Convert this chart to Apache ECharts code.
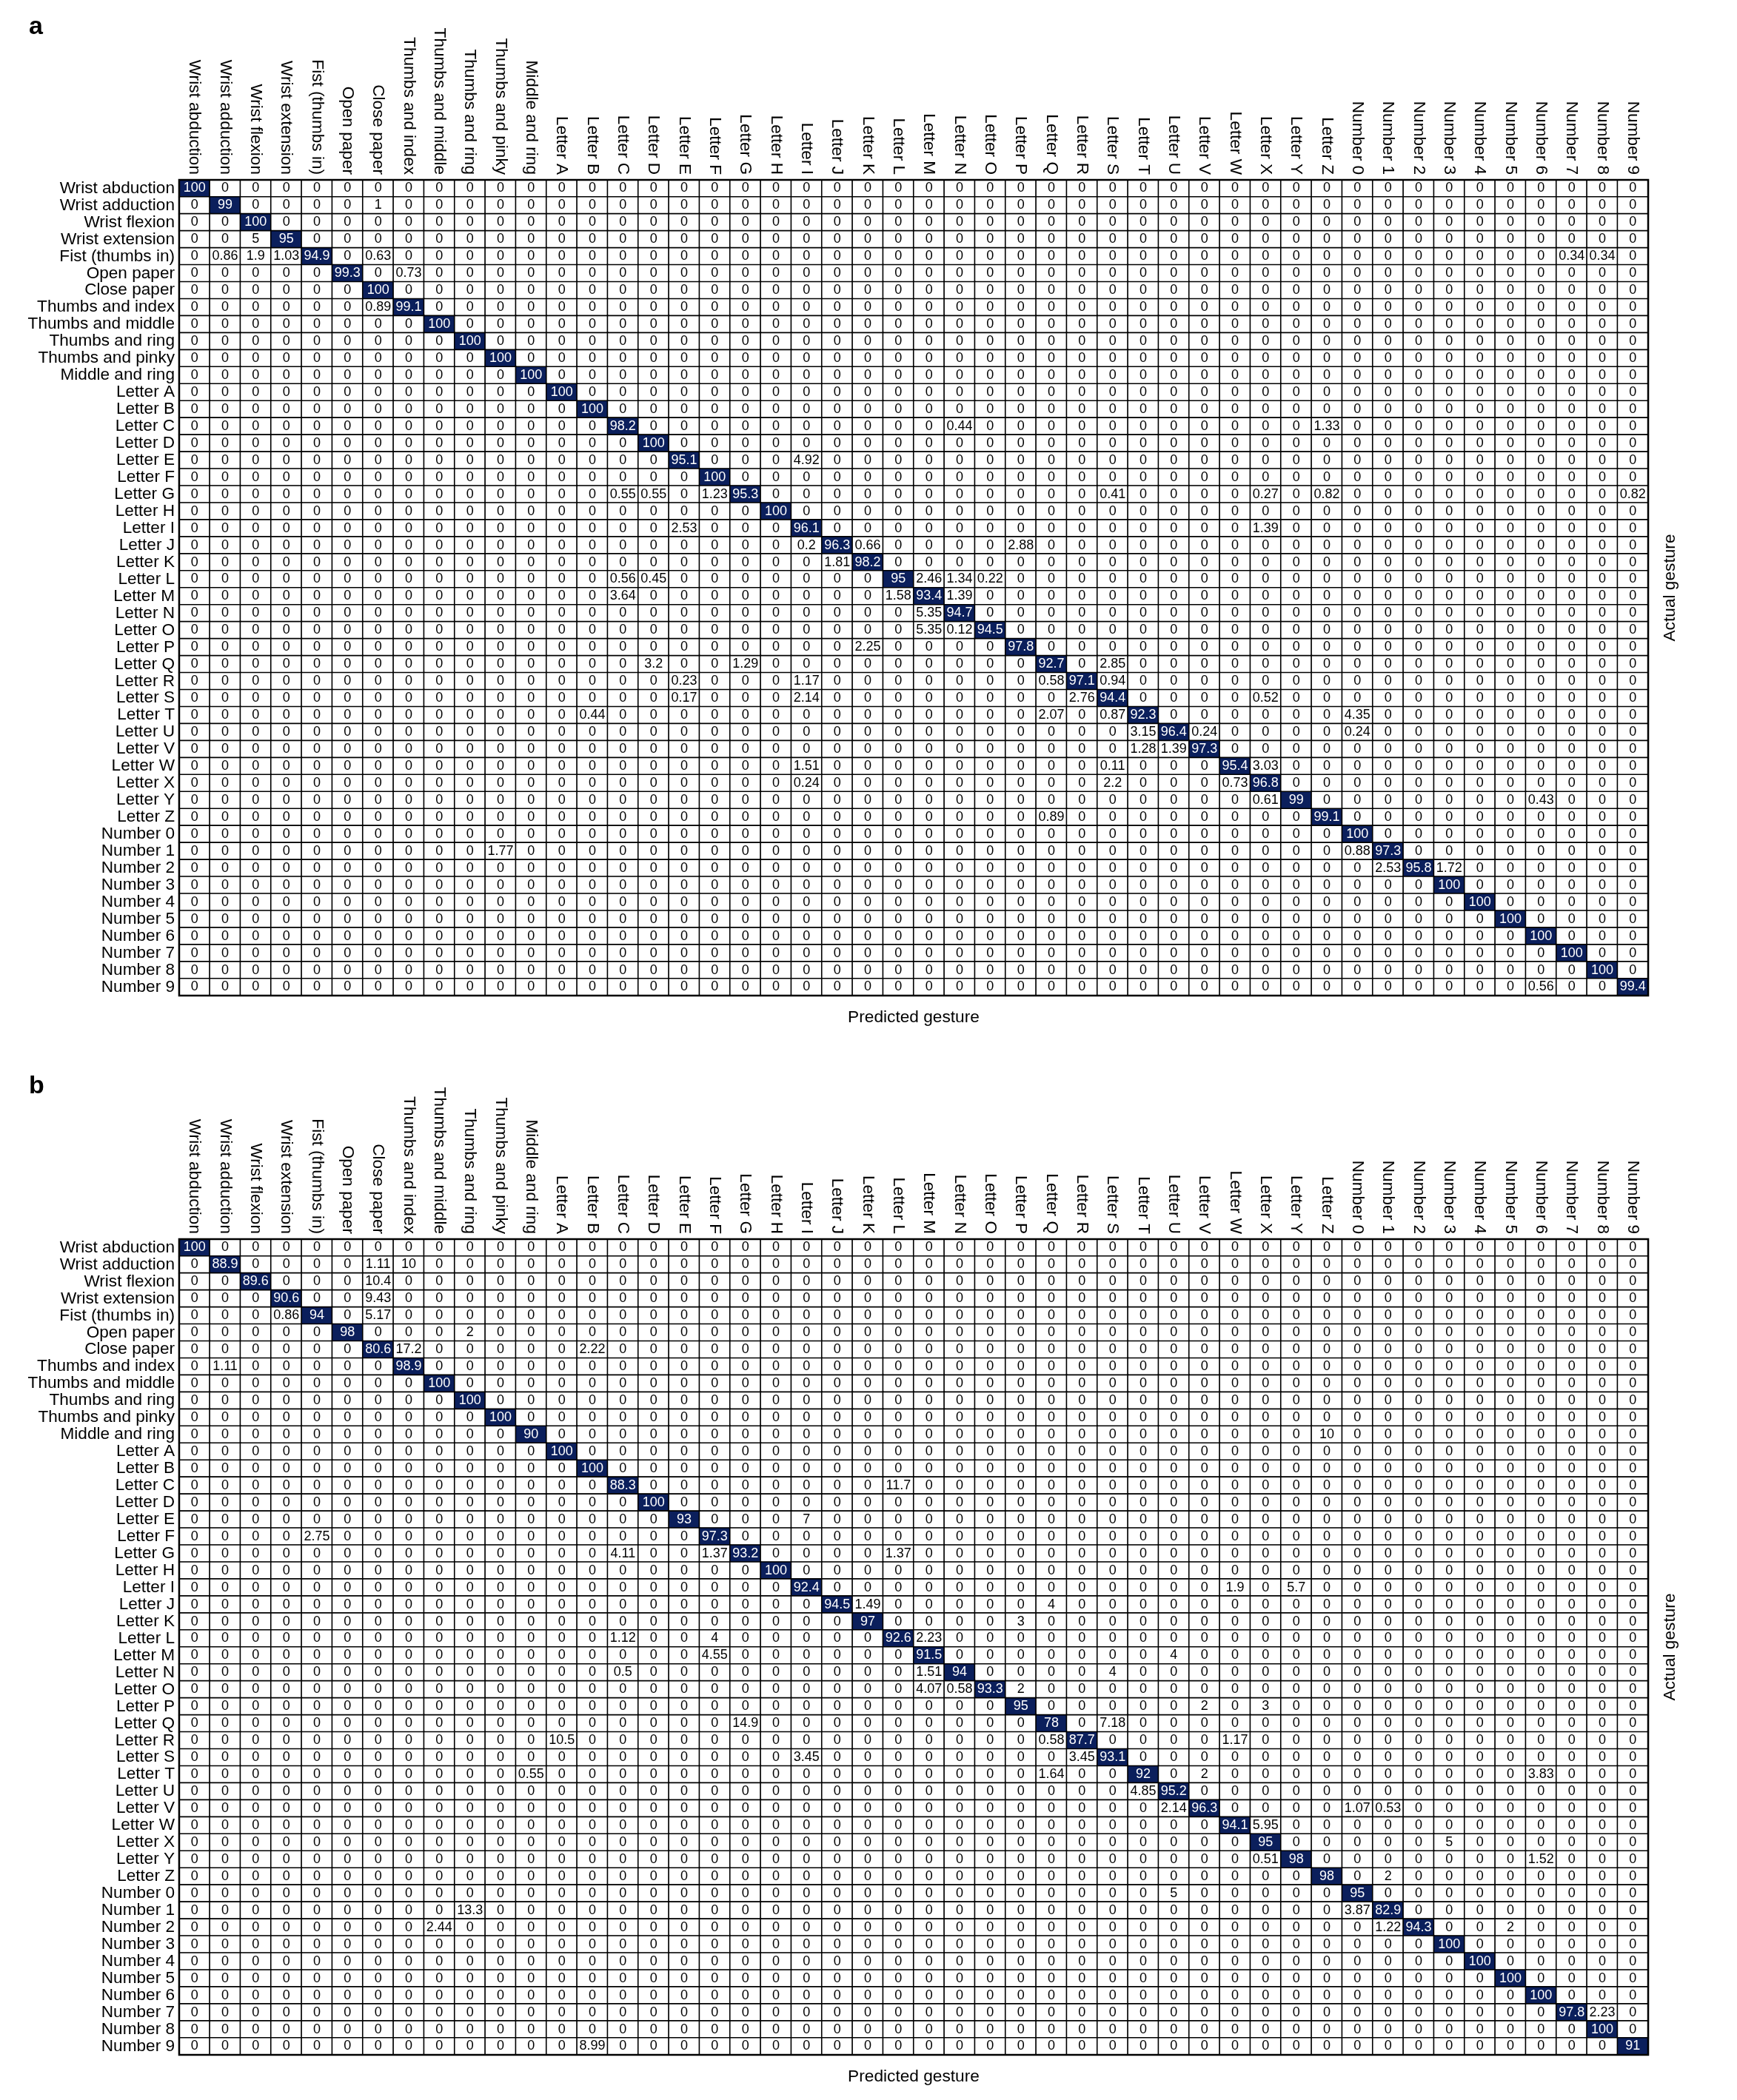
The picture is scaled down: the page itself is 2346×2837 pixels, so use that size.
<!DOCTYPE html>
<html>
<head>
<meta charset="utf-8">
<script src="https://cdn.jsdelivr.net/npm/echarts@6/dist/echarts.min.js"></script>
<style>
html,body{margin:0;padding:0;background:#fff;}
#chart{width:2346px;height:2837px;}
</style>
</head>
<body>
<div id="chart"></div>
<script>
// ---- categories (same for actual rows and predicted columns) ----
const gestures = [
  'Wrist abduction','Wrist adduction','Wrist flexion','Wrist extension','Fist (thumbs in)',
  'Open paper','Close paper','Thumbs and index','Thumbs and middle','Thumbs and ring',
  'Thumbs and pinky','Middle and ring',
  'Letter A','Letter B','Letter C','Letter D','Letter E','Letter F','Letter G','Letter H',
  'Letter I','Letter J','Letter K','Letter L','Letter M','Letter N','Letter O','Letter P',
  'Letter Q','Letter R','Letter S','Letter T','Letter U','Letter V','Letter W','Letter X',
  'Letter Y','Letter Z',
  'Number 0','Number 1','Number 2','Number 3','Number 4','Number 5','Number 6','Number 7',
  'Number 8','Number 9'
];

// ---- panel a: diagonal (correct) percentages, in gesture order ----
const diagA = [
  100, 99, 100, 95, 94.9, 99.3, 100, 99.1, 100, 100, 100, 100,
  100, 100, 98.2, 100, 95.1, 100, 95.3, 100, 96.1, 96.3, 98.2, 95,
  93.4, 94.7, 94.5, 97.8, 92.7, 97.1, 94.4, 92.3, 96.4, 97.3, 95.4, 96.8,
  99, 99.1,
  100, 97.3, 95.8, 100, 100, 100, 100, 100, 100, 99.4
];

// ---- panel a: non-zero off-diagonal cells [actual, predicted, value] ----
const offA = [
  ['Wrist adduction','Close paper',1],
  ['Wrist extension','Wrist flexion',5],
  ['Fist (thumbs in)','Wrist adduction',0.86],
  ['Fist (thumbs in)','Wrist flexion',1.9],
  ['Fist (thumbs in)','Wrist extension',1.03],
  ['Fist (thumbs in)','Close paper',0.63],
  ['Fist (thumbs in)','Number 7',0.34],
  ['Fist (thumbs in)','Number 8',0.34],
  ['Open paper','Thumbs and index',0.73],
  ['Thumbs and index','Close paper',0.89],
  ['Letter C','Letter N',0.44],
  ['Letter C','Letter Z',1.33],
  ['Letter E','Letter I',4.92],
  ['Letter G','Letter C',0.55],
  ['Letter G','Letter D',0.55],
  ['Letter G','Letter F',1.23],
  ['Letter G','Letter S',0.41],
  ['Letter G','Letter X',0.27],
  ['Letter G','Letter Z',0.82],
  ['Letter G','Number 9',0.82],
  ['Letter I','Letter E',2.53],
  ['Letter I','Letter X',1.39],
  ['Letter J','Letter I',0.2],
  ['Letter J','Letter K',0.66],
  ['Letter J','Letter P',2.88],
  ['Letter K','Letter J',1.81],
  ['Letter L','Letter C',0.56],
  ['Letter L','Letter D',0.45],
  ['Letter L','Letter M',2.46],
  ['Letter L','Letter N',1.34],
  ['Letter L','Letter O',0.22],
  ['Letter M','Letter C',3.64],
  ['Letter M','Letter L',1.58],
  ['Letter M','Letter N',1.39],
  ['Letter N','Letter M',5.35],
  ['Letter O','Letter M',5.35],
  ['Letter O','Letter N',0.12],
  ['Letter P','Letter K',2.25],
  ['Letter Q','Letter D',3.2],
  ['Letter Q','Letter G',1.29],
  ['Letter Q','Letter S',2.85],
  ['Letter R','Letter E',0.23],
  ['Letter R','Letter I',1.17],
  ['Letter R','Letter Q',0.58],
  ['Letter R','Letter S',0.94],
  ['Letter S','Letter E',0.17],
  ['Letter S','Letter I',2.14],
  ['Letter S','Letter R',2.76],
  ['Letter S','Letter X',0.52],
  ['Letter T','Letter B',0.44],
  ['Letter T','Letter Q',2.07],
  ['Letter T','Letter S',0.87],
  ['Letter T','Number 0',4.35],
  ['Letter U','Letter T',3.15],
  ['Letter U','Letter V',0.24],
  ['Letter U','Number 0',0.24],
  ['Letter V','Letter T',1.28],
  ['Letter V','Letter U',1.39],
  ['Letter W','Letter I',1.51],
  ['Letter W','Letter S',0.11],
  ['Letter W','Letter X',3.03],
  ['Letter X','Letter I',0.24],
  ['Letter X','Letter S',2.2],
  ['Letter X','Letter W',0.73],
  ['Letter Y','Letter X',0.61],
  ['Letter Y','Number 6',0.43],
  ['Letter Z','Letter Q',0.89],
  ['Number 1','Thumbs and pinky',1.77],
  ['Number 1','Number 0',0.88],
  ['Number 2','Number 1',2.53],
  ['Number 2','Number 3',1.72],
  ['Number 9','Number 6',0.56]
];

// ---- panel b: diagonal (correct) percentages, in gesture order ----
const diagB = [
  100, 88.9, 89.6, 90.6, 94, 98, 80.6, 98.9, 100, 100, 100, 90,
  100, 100, 88.3, 100, 93, 97.3, 93.2, 100, 92.4, 94.5, 97, 92.6,
  91.5, 94, 93.3, 95, 78, 87.7, 93.1, 92, 95.2, 96.3, 94.1, 95,
  98, 98,
  95, 82.9, 94.3, 100, 100, 100, 100, 97.8, 100, 91
];

// ---- panel b: non-zero off-diagonal cells [actual, predicted, value] ----
const offB = [
  ['Wrist adduction','Close paper',1.11],
  ['Wrist adduction','Thumbs and index',10],
  ['Wrist flexion','Close paper',10.4],
  ['Wrist extension','Close paper',9.43],
  ['Fist (thumbs in)','Wrist extension',0.86],
  ['Fist (thumbs in)','Close paper',5.17],
  ['Open paper','Thumbs and ring',2],
  ['Close paper','Thumbs and index',17.2],
  ['Close paper','Letter B',2.22],
  ['Thumbs and index','Wrist adduction',1.11],
  ['Middle and ring','Letter Z',10],
  ['Letter C','Letter L',11.7],
  ['Letter E','Letter I',7],
  ['Letter F','Fist (thumbs in)',2.75],
  ['Letter G','Letter C',4.11],
  ['Letter G','Letter F',1.37],
  ['Letter G','Letter L',1.37],
  ['Letter I','Letter W',1.9],
  ['Letter I','Letter Y',5.7],
  ['Letter J','Letter K',1.49],
  ['Letter J','Letter Q',4],
  ['Letter K','Letter P',3],
  ['Letter L','Letter C',1.12],
  ['Letter L','Letter F',4],
  ['Letter L','Letter M',2.23],
  ['Letter M','Letter F',4.55],
  ['Letter M','Letter U',4],
  ['Letter N','Letter C',0.5],
  ['Letter N','Letter M',1.51],
  ['Letter N','Letter S',4],
  ['Letter O','Letter M',4.07],
  ['Letter O','Letter N',0.58],
  ['Letter O','Letter P',2],
  ['Letter P','Letter V',2],
  ['Letter P','Letter X',3],
  ['Letter Q','Letter G',14.9],
  ['Letter Q','Letter S',7.18],
  ['Letter R','Letter A',10.5],
  ['Letter R','Letter Q',0.58],
  ['Letter R','Letter W',1.17],
  ['Letter S','Letter I',3.45],
  ['Letter S','Letter R',3.45],
  ['Letter T','Middle and ring',0.55],
  ['Letter T','Letter Q',1.64],
  ['Letter T','Letter V',2],
  ['Letter T','Number 6',3.83],
  ['Letter U','Letter T',4.85],
  ['Letter V','Letter U',2.14],
  ['Letter V','Number 0',1.07],
  ['Letter V','Number 1',0.53],
  ['Letter W','Letter X',5.95],
  ['Letter X','Number 3',5],
  ['Letter Y','Letter X',0.51],
  ['Letter Y','Number 6',1.52],
  ['Letter Z','Number 1',2],
  ['Number 0','Letter U',5],
  ['Number 1','Thumbs and ring',13.3],
  ['Number 1','Number 0',3.87],
  ['Number 2','Thumbs and middle',2.44],
  ['Number 2','Number 1',1.22],
  ['Number 2','Number 5',2],
  ['Number 7','Number 8',2.23],
  ['Number 9','Letter B',8.99]
];

const panelLabels = ['a', 'b'];
const xAxisTitle = 'Predicted gesture';
const yAxisTitle = 'Actual gesture';

// ---- build the full matrices (cells not listed are 0) ----
function buildData(diag, off) {
  const n = gestures.length;
  const m = [];
  for (let r = 0; r < n; r++) { m.push(new Array(n).fill(0)); }
  diag.forEach((v, i) => { m[i][i] = v; });
  off.forEach(([a, p, v]) => { m[gestures.indexOf(a)][gestures.indexOf(p)] = v; });
  const out = [];
  for (let r = 0; r < n; r++) {
    for (let c = 0; c < n; c++) {
      const v = m[r][c];
      out.push({ value: [c, r, v], label: { color: v >= 50 ? '#ffffff' : '#000000' } });
    }
  }
  return out;
}

const FONT = '"Liberation Sans", Arial, Helvetica, sans-serif';
const NAVY = '#0b1f5c';
const GRID_LEFT = 242, GRID_W = 1984, GRID_H = 1102;
const TOPS = [243, 1674];

const chart = echarts.init(document.getElementById('chart'), null, { renderer: 'canvas' });

const grids = [], xAxes = [], yAxes = [], series = [], titles = [], graphics = [];
[[diagA, offA], [diagB, offB]].forEach(([diag, off], k) => {
  const top = TOPS[k];
  grids.push({ left: GRID_LEFT, top: top, width: GRID_W, height: GRID_H, show: false, containLabel: false });
  xAxes.push({
    type: 'category', gridIndex: k, data: gestures, position: 'top',
    axisLine: { show: false }, axisTick: { show: false }, splitLine: { show: false },
    axisLabel: { interval: 0, rotate: 90, margin: 7, fontSize: 22.6, color: '#000', fontFamily: FONT }
  });
  yAxes.push({
    type: 'category', gridIndex: k, data: gestures, inverse: true,
    axisLine: { show: false }, axisTick: { show: false }, splitLine: { show: false },
    axisLabel: { interval: 0, margin: 6, fontSize: 22.6, color: '#000', fontFamily: FONT }
  });
  series.push({
    type: 'heatmap', xAxisIndex: k, yAxisIndex: k,
    data: buildData(diag, off),
    itemStyle: { borderColor: '#000', borderWidth: 1.6 },
    label: {
      show: true, fontSize: 18, fontFamily: FONT,
      formatter: p => String(p.value[2])
    },
    emphasis: { disabled: true },
    animation: false
  });
  titles.push({
    text: panelLabels[k], left: 34, top: top - 228,
    textStyle: { fontSize: 34, fontWeight: 'bold', color: '#000', fontFamily: FONT }
  });
  graphics.push({
    type: 'text', x: GRID_LEFT + GRID_W / 2, y: top + GRID_H + 30,
    style: { text: xAxisTitle, fontSize: 22.7, fontFamily: FONT, fill: '#000', align: 'center', verticalAlign: 'middle' }
  });
  graphics.push({
    type: 'text', x: 2256, y: top + GRID_H / 2, rotation: Math.PI / 2,
    style: { text: yAxisTitle, fontSize: 22.7, fontFamily: FONT, fill: '#000', align: 'center', verticalAlign: 'middle' }
  });
  // outer frame of the matrix
  graphics.push({
    type: 'rect', shape: { x: GRID_LEFT, y: top, width: GRID_W, height: GRID_H },
    style: { fill: null, stroke: '#000', lineWidth: 2.5 }, z: 100, silent: true
  });
});

chart.setOption({
  backgroundColor: '#ffffff',
  animation: false,
  title: titles,
  grid: grids,
  xAxis: xAxes,
  yAxis: yAxes,
  visualMap: {
    type: 'piecewise', show: false, dimension: 2, seriesIndex: [0, 1],
    pieces: [{ gte: 50, color: NAVY }, { lt: 50, color: '#ffffff' }]
  },
  series: series,
  graphic: graphics
});
</script>
</body>
</html>
